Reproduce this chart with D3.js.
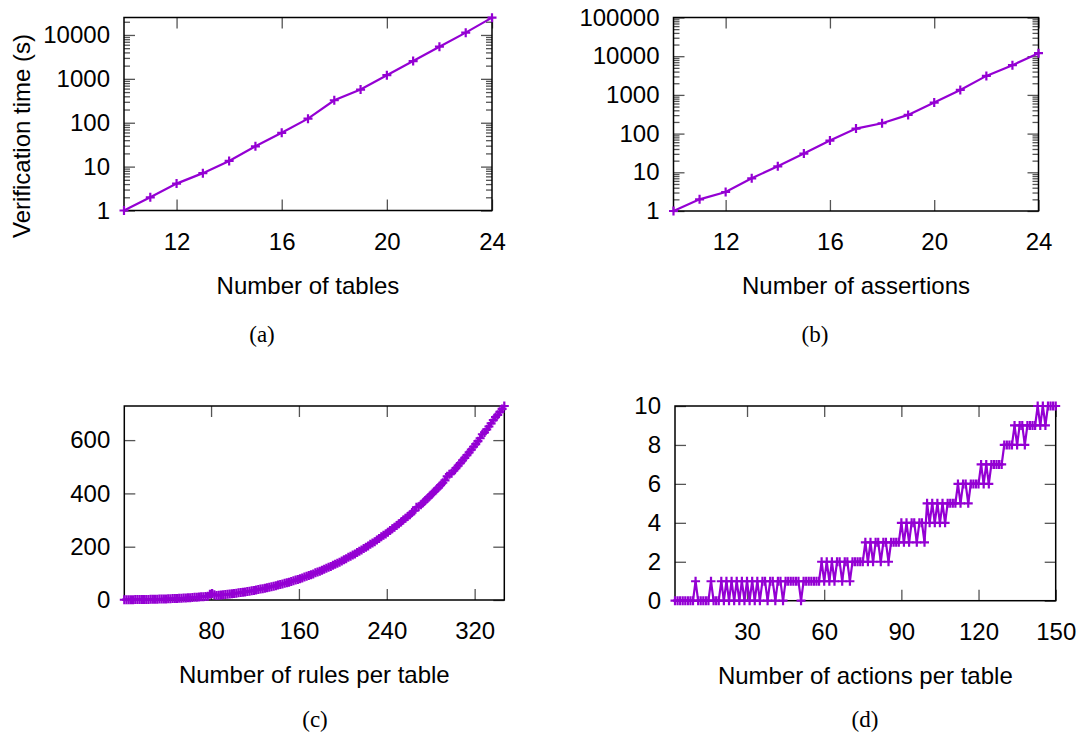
<!DOCTYPE html>
<html>
<head>
<meta charset="utf-8">
<script src="https://cdn.jsdelivr.net/npm/d3@7"></script>
<style>
  body { margin: 0; background: #fff; }
  svg text { font-family: "Liberation Sans", Arial, sans-serif; font-size: 24px; fill: #000; }
  svg text.cap { font-family: "Liberation Serif", "Times New Roman", serif; font-size: 23px; }
</style>
</head>
<body>
<script>
// gnuplot-ish purple
const purple = "#9400d3";

// (a) verification time vs number of tables
const tablesX = [10, 11, 12, 13, 14, 15, 16, 17, 18, 19, 20, 21, 22, 23, 24];
const tablesTime = [1, 2, 4.1, 7.1, 13.5, 29, 59, 124, 325, 570, 1210, 2540, 5400, 11300, 24800];

// (b) verification time vs number of assertions
const assertX = [10, 11, 12, 13, 14, 15, 16, 17, 18, 19, 20, 21, 22, 23, 24];
const assertTime = [1, 2, 3.1, 7, 14.3, 30.4, 66, 135, 185, 304, 634, 1346, 3100, 5850, 11960];

// (c) rules per table (every other rule count, 1..347)
const rulesX = d3.range(1, 348, 2);
const rulesTime = [
  1.0, 1.1, 1.2, 1.3, 1.4, 1.5, 1.6, 1.7, 1.9, 2.0,
  2.1, 2.3, 2.5, 2.7, 2.9, 3.1, 3.4, 3.6, 3.9, 4.2,
  4.5, 4.8, 5.2, 5.5, 5.9, 6.3, 6.8, 7.2, 7.7, 8.2,
  8.7, 9.3, 9.9, 10.5, 11.2, 11.8, 12.6, 13.4, 14.1, 22,
  24, 20, 17.2, 18.0, 18.7, 19.6, 20.5, 21.4, 22.3, 23.3,
  24.4, 25.6, 26.8, 28.0, 29.2, 30.4, 31.8, 33.2, 34.6, 36.0,
  37.5, 39.2, 40.9, 42.5, 44.2, 45.9, 47.9, 49.9, 51.8, 53.8,
  55.9, 58.1, 60.2, 62.4, 64.6, 67.0, 69.5, 72.1, 74.6, 77.1,
  80, 83, 86, 89, 92, 95, 98, 102, 105, 108,
  112, 115, 119, 123, 126, 130, 134, 138, 142, 146,
  151, 155, 160, 164, 169, 173, 178, 183, 188, 193,
  198, 203, 209, 214, 219, 225, 231, 237, 243, 248,
  254, 261, 267, 273, 280, 286, 293, 300, 307, 313,
  320, 328, 335, 348, 350, 357, 365, 373, 381, 389,
  397, 406, 414, 422, 431, 440, 449, 464, 472, 476,
  485, 495, 504, 514, 524, 533, 544, 554, 564, 575,
  585, 596, 607, 622, 629, 640, 651, 663, 675, 686,
  695, 706, 717, 728
];

// (d) actions per table, 2..150
const actionsX = d3.range(2, 151);
const actionsTime = [
  0, 0, 0, 0, 0, 0, 0, 0, 1, 0, 0, 0, 0, 0, 1, 0, 0, 0,
  1, 0, 1, 0, 1, 0, 1, 0, 1, 0, 1, 0, 1, 0, 1, 0, 1, 1, 0, 1, 1, 0, 1, 1, 0,
  1, 1, 1, 1, 1, 1, 0, 1, 1, 1, 1, 1, 1, 1,
  2, 1, 2, 1, 2, 1, 2, 2, 1, 2, 2, 1,
  2, 2, 2, 2, 2,
  3, 2, 3, 2, 3, 3, 2, 3, 3, 2,
  3, 3, 3, 3,
  4, 3, 4, 3, 4, 4, 3, 4, 4, 3,
  5, 4, 5, 4, 5, 4, 5, 4,
  5, 5, 5, 5,
  6, 5, 6, 6, 5,
  6, 6, 6, 6,
  7, 6, 7, 6, 7,
  7, 7, 7, 7,
  8, 8, 8, 8,
  9, 8, 9, 9, 8,
  9, 9, 9, 9,
  10, 9, 10, 9,
  10, 10, 10, 10
];

const svg = d3.select("body").append("svg")
  .attr("width", 1085)
  .attr("height", 735);

function minorLog(max) {
  const out = [];
  for (let p = 1; p <= max; p *= 10) {
    for (let k = 2; k <= 9; k++) if (k * p <= max) out.push(k * p);
  }
  return out;
}

function panel(c) {
  const x = d3.scaleLinear().domain(c.xDomain).range([c.left, c.right]);
  const y = (c.log ? d3.scaleLog() : d3.scaleLinear()).domain(c.yDomain).range([c.bottom, c.top]);
  const g = svg.append("g");
  const noDomain = s => s.select(".domain").remove();
  const tickStyle = s => s.selectAll("line").attr("stroke", "#555").attr("stroke-width", 1.3);

  g.append("g").attr("transform", "translate(0," + c.bottom + ")")
    .call(d3.axisBottom(x).tickValues(c.xTicks).tickSize(-11).tickPadding(22))
    .call(noDomain).call(tickStyle);
  g.append("g").attr("transform", "translate(0," + c.top + ")")
    .call(d3.axisTop(x).tickValues(c.xTicks).tickSize(-11).tickFormat(""))
    .call(noDomain).call(tickStyle);
  g.append("g").attr("transform", "translate(" + c.left + ",0)")
    .call(d3.axisLeft(y).tickValues(c.yTicks).tickSize(-11).tickPadding(14).tickFormat(d3.format("d")))
    .call(noDomain).call(tickStyle);
  g.append("g").attr("transform", "translate(" + c.right + ",0)")
    .call(d3.axisRight(y).tickValues(c.yTicks).tickSize(-11).tickFormat(""))
    .call(noDomain).call(tickStyle);

  if (c.log) {
    const minor = minorLog(c.yDomain[1]);
    g.append("g").attr("transform", "translate(" + c.left + ",0)")
      .call(d3.axisLeft(y).tickValues(minor).tickSize(-6).tickFormat(""))
      .call(noDomain).call(tickStyle);
    g.append("g").attr("transform", "translate(" + c.right + ",0)")
      .call(d3.axisRight(y).tickValues(minor).tickSize(-6).tickFormat(""))
      .call(noDomain).call(tickStyle);
  }

  g.append("rect")
    .attr("x", c.left).attr("y", c.top)
    .attr("width", c.right - c.left).attr("height", c.bottom - c.top)
    .attr("fill", "none").attr("stroke", "#000").attr("stroke-width", 1.5);

  const pts = c.xs.map((d, i) => [d, c.ys[i]]);
  g.append("path")
    .datum(pts)
    .attr("fill", "none")
    .attr("stroke", purple)
    .attr("stroke-width", 2.2)
    .attr("d", d3.line().x(d => x(d[0])).y(d => y(d[1])));

  g.selectAll(".pt")
    .data(pts)
    .enter()
    .append("path")
    .attr("class", "pt")
    .attr("transform", d => "translate(" + x(d[0]) + "," + y(d[1]) + ")")
    .attr("d", "M-4.5,0H4.5M0,-4.5V4.5")
    .attr("stroke", purple)
    .attr("stroke-width", 2.2);

  g.append("text")
    .attr("x", (c.left + c.right) / 2)
    .attr("y", c.bottom + 83)
    .attr("text-anchor", "middle")
    .text(c.xTitle);

  if (c.yTitle) {
    g.append("text")
      .attr("transform", "translate(30,136) rotate(-90)")
      .attr("text-anchor", "middle")
      .text(c.yTitle);
  }

  g.append("text")
    .attr("class", "cap")
    .attr("x", c.capX)
    .attr("y", c.capY)
    .attr("text-anchor", "middle")
    .text(c.caption);
}

panel({
  left: 124, right: 492, top: 17.5, bottom: 210.5,
  xDomain: [10, 24], yDomain: [1, 25000], log: true,
  xTicks: [12, 16, 20, 24], yTicks: [1, 10, 100, 1000, 10000],
  xs: tablesX, ys: tablesTime,
  xTitle: "Number of tables", yTitle: "Verification time (s)",
  caption: "(a)", capX: 262, capY: 342
});

panel({
  left: 673.5, right: 1038.5, top: 17.5, bottom: 211,
  xDomain: [10, 24], yDomain: [1, 100000], log: true,
  xTicks: [12, 16, 20, 24], yTicks: [1, 10, 100, 1000, 10000, 100000],
  xs: assertX, ys: assertTime,
  xTitle: "Number of assertions",
  caption: "(b)", capX: 815, capY: 342
});

panel({
  left: 124.3, right: 504.3, top: 406, bottom: 600,
  xDomain: [1, 347], yDomain: [0, 728], log: false,
  xTicks: [80, 160, 240, 320], yTicks: [0, 200, 400, 600],
  xs: rulesX, ys: rulesTime,
  xTitle: "Number of rules per table",
  caption: "(c)", capX: 315, capY: 727
});

panel({
  left: 675, right: 1055.7, top: 406, bottom: 600.7,
  xDomain: [2, 150], yDomain: [0, 10], log: false,
  xTicks: [30, 60, 90, 120, 150], yTicks: [0, 2, 4, 6, 8, 10],
  xs: actionsX, ys: actionsTime,
  xTitle: "Number of actions per table",
  caption: "(d)", capX: 865, capY: 727
});
</script>
</body>
</html>
